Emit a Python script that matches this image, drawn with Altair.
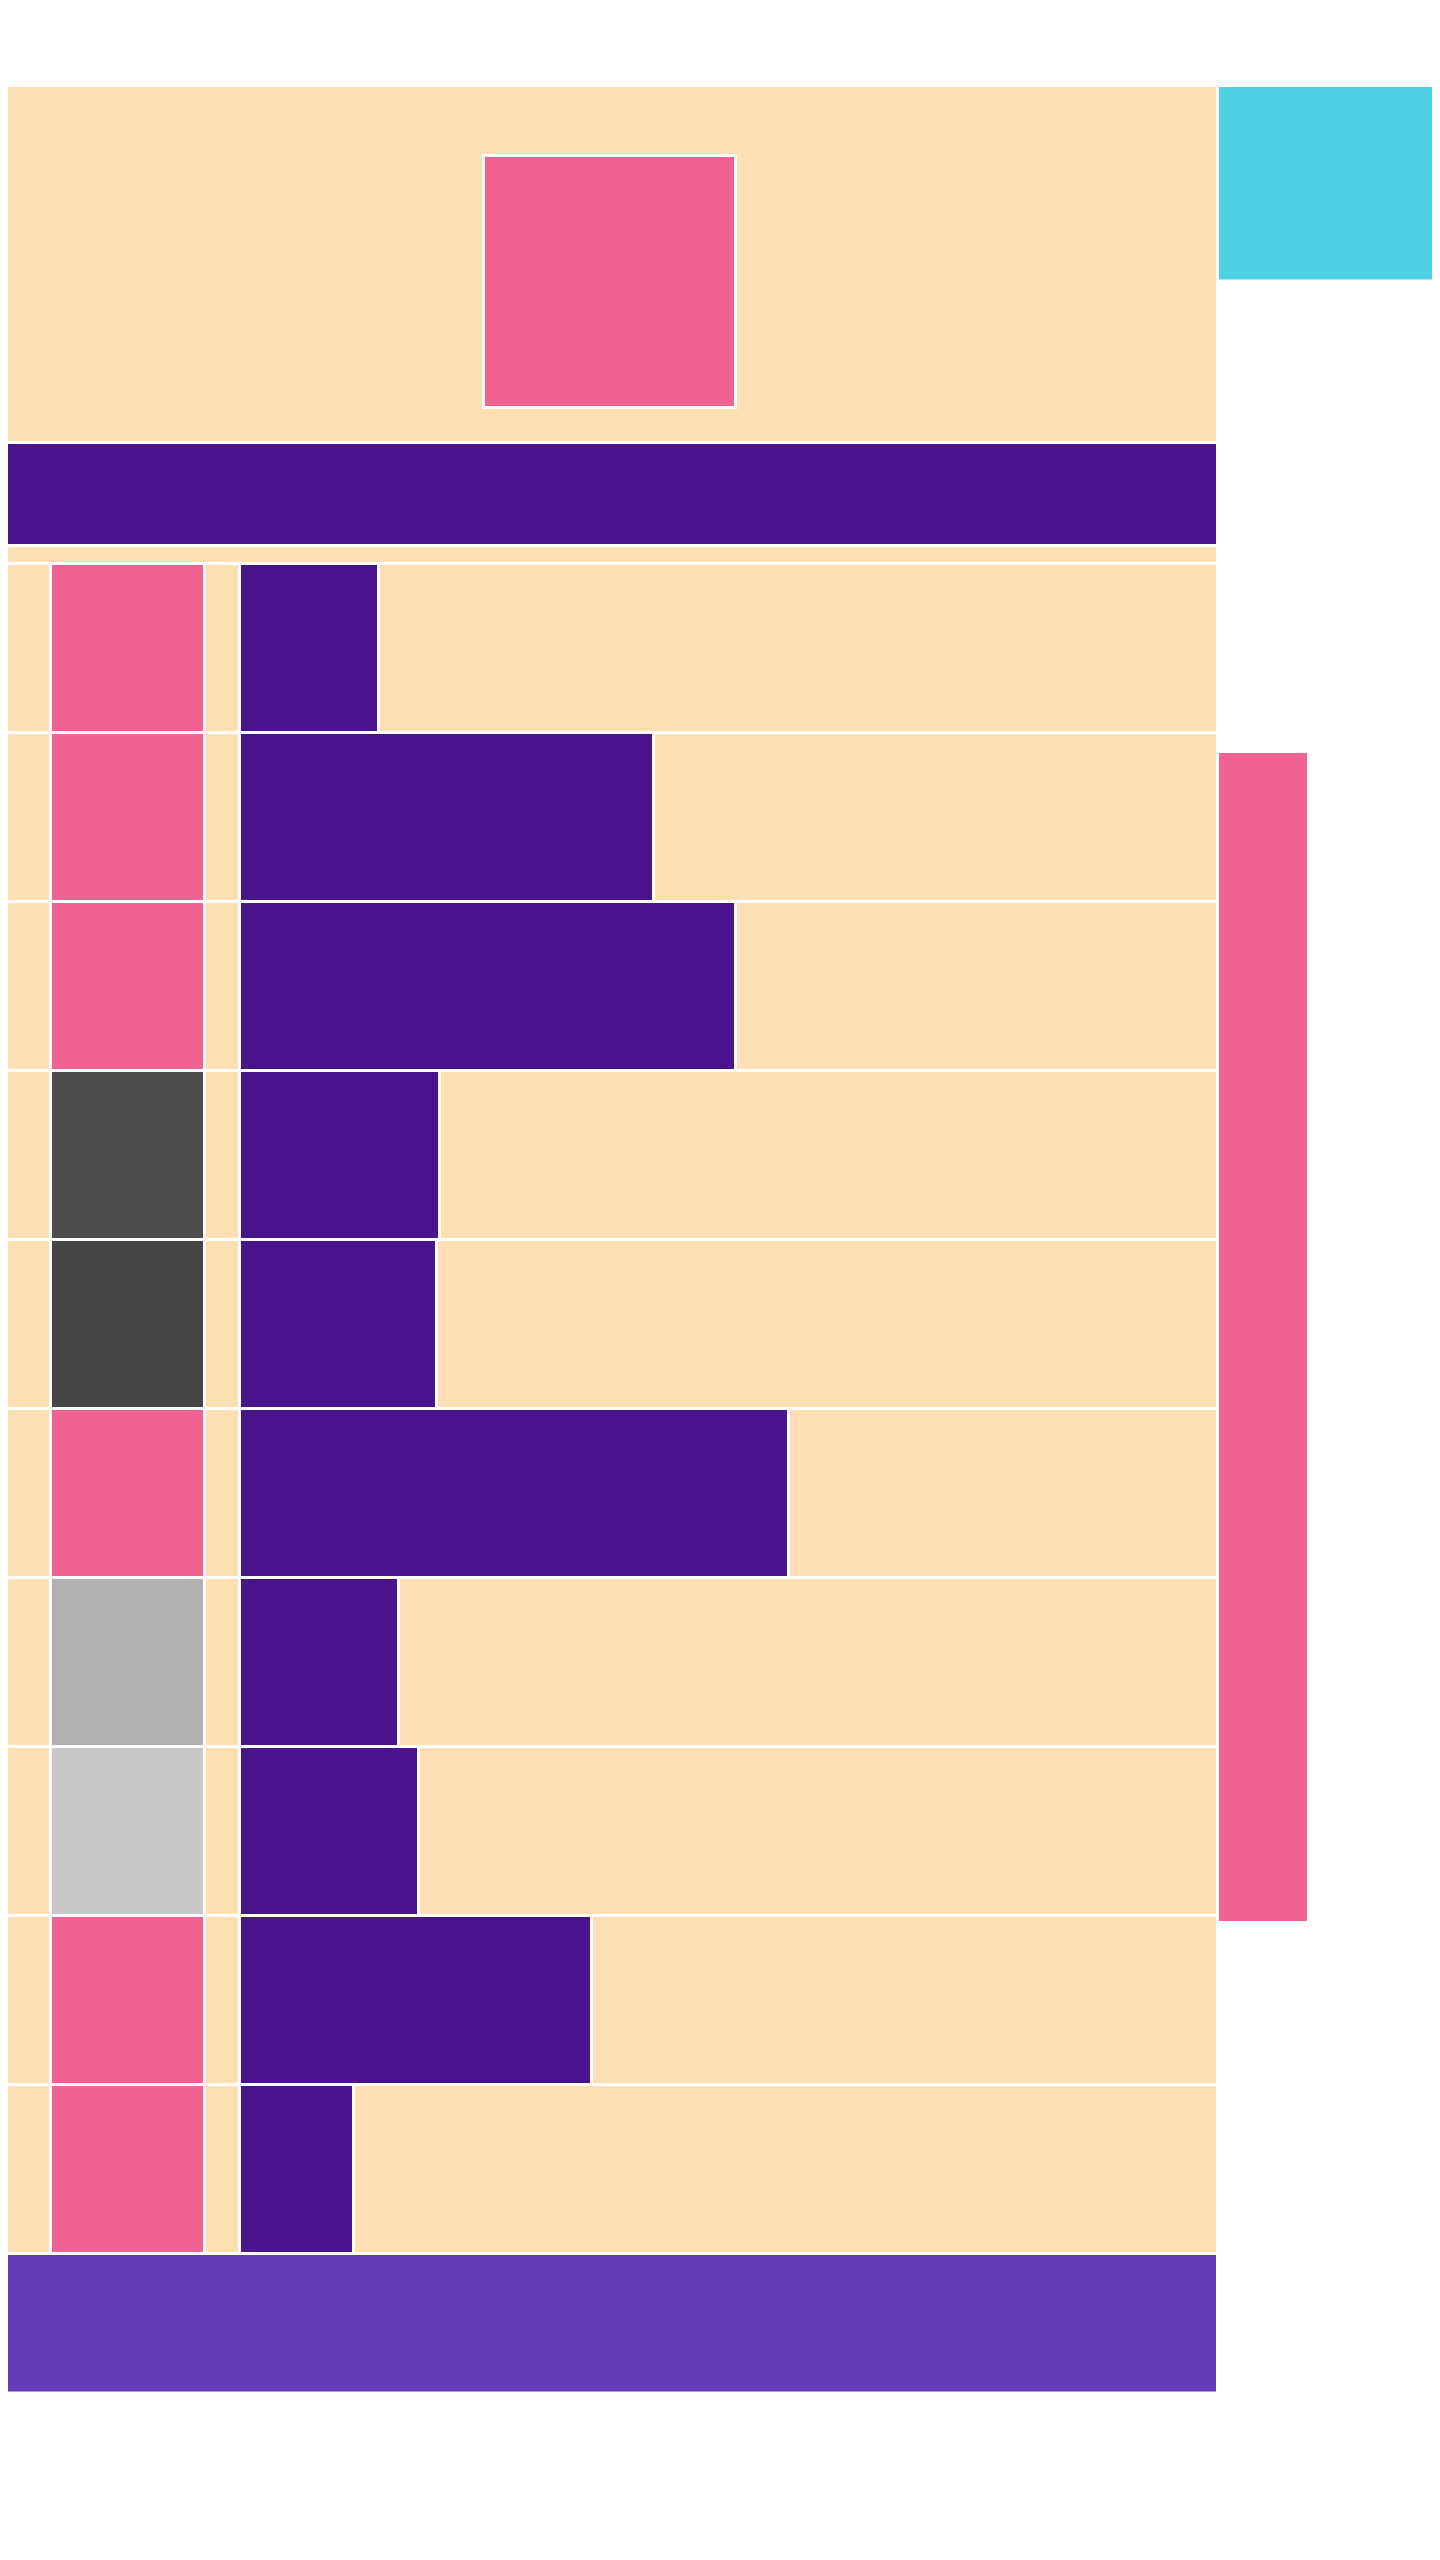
import altair as alt
import pandas as pd

# ---- data ----
PEACH = "#FEDFB3"
PINK = "#F06292"
DEEP_PURPLE = "#4A148C"
PURPLE = "#673AB7"
CYAN = "#4DD0E1"

row_colors = [PINK, PINK, PINK, "#4D4D4D", "#454545", PINK, "#B0B0B0", "#C8C8C8", PINK, PINK]
bar_lengths = [139, 414, 496, 200, 197, 549, 159, 179, 352, 114]

panel_left, panel_right = 1.5, 1217.5
col_edges = [1.5, 50.5, 204.5, 239.5]        # peach | category | peach | bar start
rows_top, row_height = 563.5, 169
header_edges = [85.5, 442.5, 545.5, 563.5]    # peach block | purple band | thin peach
footer_edges = [2253.5, 2393.0]
inner_square = [483.5, 735.5, 155.5, 407.5]   # x0, x1, y0, y1
side_cyan = [1217.5, 1441.5, 85.5, 281.0]
side_pink = [1217.5, 1308.5, 751.5, 1922.5]

# ---- build rectangle table ----
recs = []
def add(x0, x1, y0, y1, c):
    recs.append(dict(x0=x0, x1=x1, y0=y0, y1=y1, c=c))

add(panel_left, panel_right, header_edges[0], header_edges[1], PEACH)
add(*inner_square, PINK)
add(*side_cyan, CYAN)
add(panel_left, panel_right, header_edges[1], header_edges[2], DEEP_PURPLE)
add(panel_left, panel_right, header_edges[2], header_edges[3], PEACH)
for i, (col, ln) in enumerate(zip(row_colors, bar_lengths)):
    y0 = rows_top + row_height * i
    y1 = y0 + row_height
    add(col_edges[0], col_edges[1], y0, y1, PEACH)
    add(col_edges[1], col_edges[2], y0, y1, col)
    add(col_edges[2], col_edges[3], y0, y1, PEACH)
    add(col_edges[3], col_edges[3] + ln, y0, y1, DEEP_PURPLE)
    add(col_edges[3] + ln, panel_right, y0, y1, PEACH)
add(panel_left, panel_right, footer_edges[0], footer_edges[1], PURPLE)
add(*side_pink, PINK)

df = pd.DataFrame(recs)
df["order"] = range(len(df))

W, H = 1424, 2400
chart = (
    alt.Chart(df)
    .mark_rect(stroke="white", strokeWidth=3)
    .encode(
        x=alt.X("x0:Q", scale=alt.Scale(domain=[8, 8 + W], nice=False, zero=False), axis=None),
        x2="x1:Q",
        y=alt.Y("y0:Q", scale=alt.Scale(domain=[8, 8 + H], nice=False, zero=False, reverse=True), axis=None),
        y2="y1:Q",
        color=alt.Color("c:N", scale=None),
        order=alt.Order("order:Q"),
    )
    .properties(width=W, height=H, padding=0, autosize=alt.AutoSizeParams(type="none"))
    .configure_view(strokeWidth=0)
)

chart.save("out.html", embed_options={"renderer": "svg", "actions": False})
